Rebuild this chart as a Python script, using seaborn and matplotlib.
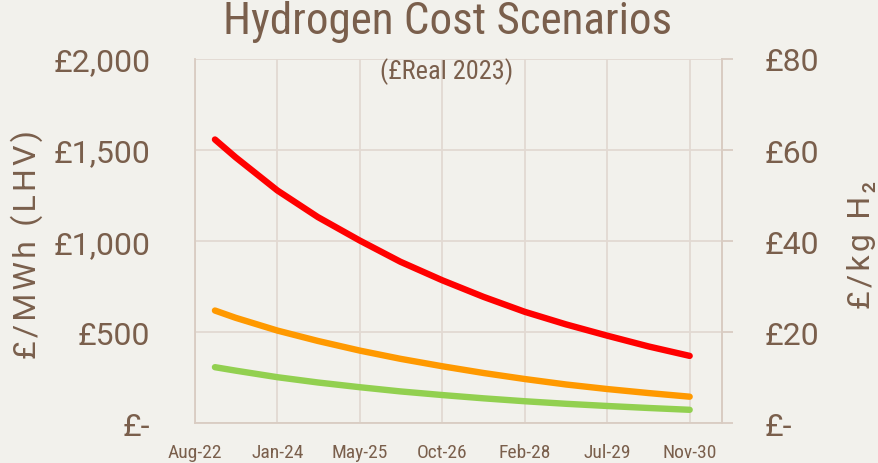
import matplotlib
matplotlib.use("Agg")
import matplotlib.pyplot as plt
import seaborn as sns
import pandas as pd
from matplotlib import font_manager

# ---- data (months after Aug-2022) ----
months = [4, 8.15, 16.5, 24.6, 33, 41.1, 49.5, 57.75, 66, 74.25, 82.5, 90.75, 99]
high = [1558, 1460, 1278, 1132, 1003, 887, 785, 694, 612, 543, 481, 422, 370]
mid = [619, 579, 509, 452, 399, 354, 313, 276, 243, 213, 188, 166, 146]
low = [308, 289, 253, 224, 198, 175, 155, 137, 121, 107, 95, 84, 74]
tick_pos = [0, 16.5, 33, 49.5, 66, 82.5, 99]
tick_labels = ["Aug-22", "Jan-24", "May-25", "Oct-26", "Feb-28", "Jul-29", "Nov-30"]
left_ticks = [0, 500, 1000, 1500, 2000]
left_labels = ["£-", "£500", "£1,000", "£1,500", "£2,000"]
right_ticks = [0, 20, 40, 60, 80]
right_labels = ["£-", "£20", "£40", "£60", "£80"]

df = pd.concat([
    pd.DataFrame({"month": months, "value": high, "scenario": "High"}),
    pd.DataFrame({"month": months, "value": mid, "scenario": "Mid"}),
    pd.DataFrame({"month": months, "value": low, "scenario": "Low"}),
])
palette = {"High": "#FF0000", "Mid": "#FF9900", "Low": "#92D050"}

BG = "#F2F1EC"
TXT = "#7A5F4C"
GRID = "#E2D9D2"
SPINE = "#D9CCC2"

names = {f.name for f in font_manager.fontManager.ttflist}
narrow = ["Liberation Sans Narrow", "Roboto Condensed", "Liberation Sans"]
narrow = [n for n in narrow if n in names] + ["DejaVu Sans"]
main = ["Roboto", "DejaVu Sans"]

sns.set_theme(style="white")
plt.rcParams["font.family"] = main

fig = plt.figure(figsize=(8.79, 4.64), dpi=100, facecolor=BG)
ax = fig.add_axes([0.2218, 0.0856, 0.821 - 0.2218, 0.8707 - 0.0856])
ax.set_facecolor(BG)

sns.lineplot(data=df, x="month", y="value", hue="scenario", palette=palette,
             ax=ax, linewidth=4.6, legend=False, solid_capstyle="round",
             solid_joinstyle="round")

ax.set_xlim(0, 105.4)
ax.set_ylim(0, 2000)
ax.set_xticks(tick_pos)
ax.set_xticklabels(tick_labels, family=narrow, fontsize=14, color=TXT)
ax.set_yticks(left_ticks)
ax.set_yticklabels(left_labels, fontsize=23, color=TXT)
ax.tick_params(axis="x", length=0, pad=14)
ax.tick_params(axis="y", length=0, pad=32)
ax.grid(True, color=GRID, linewidth=1.3)
ax.spines["top"].set_visible(False)
for s in ["left", "bottom", "right"]:
    ax.spines[s].set_color(SPINE)
    ax.spines[s].set_linewidth(1.3)
ax.set_xlabel("")

HS = "\u200a"
left_label = HS.join("£/MWh (LHV)")
right_label = HS.join("£/kg H₂")

ax.set_ylabel(left_label, fontsize=23, color=TXT)
ax.yaxis.label.set_va("center")
ax.yaxis.set_label_coords(-0.319, 0.492)

ax2 = ax.twinx()
ax2.set_ylim(0, 80)
ax2.set_yticks(right_ticks)
ax2.set_yticklabels(right_labels, fontsize=23, color=TXT)
ax2.tick_params(axis="y", length=8, width=1.3, color=SPINE, pad=23)
for s in ["top", "left", "bottom"]:
    ax2.spines[s].set_visible(False)
ax2.spines["right"].set_color(SPINE)
ax2.spines["right"].set_linewidth(1.3)
ax2.set_ylabel(right_label, fontsize=23, color=TXT)
ax2.yaxis.label.set_va("center")
ax2.yaxis.label.set_rotation(90)
ax2.yaxis.set_label_coords(1.266, 0.492)

fig.text(0.5095, 0.952, "Hydrogen Cost Scenarios", ha="center", va="center",
         fontsize=32.5, color=TXT, family=narrow)
fig.text(0.5085, 0.845, "(£Real 2023)", ha="center", va="center",
         fontsize=19, color=TXT, family=narrow)

fig.savefig("out.png", dpi=100, facecolor=BG)
